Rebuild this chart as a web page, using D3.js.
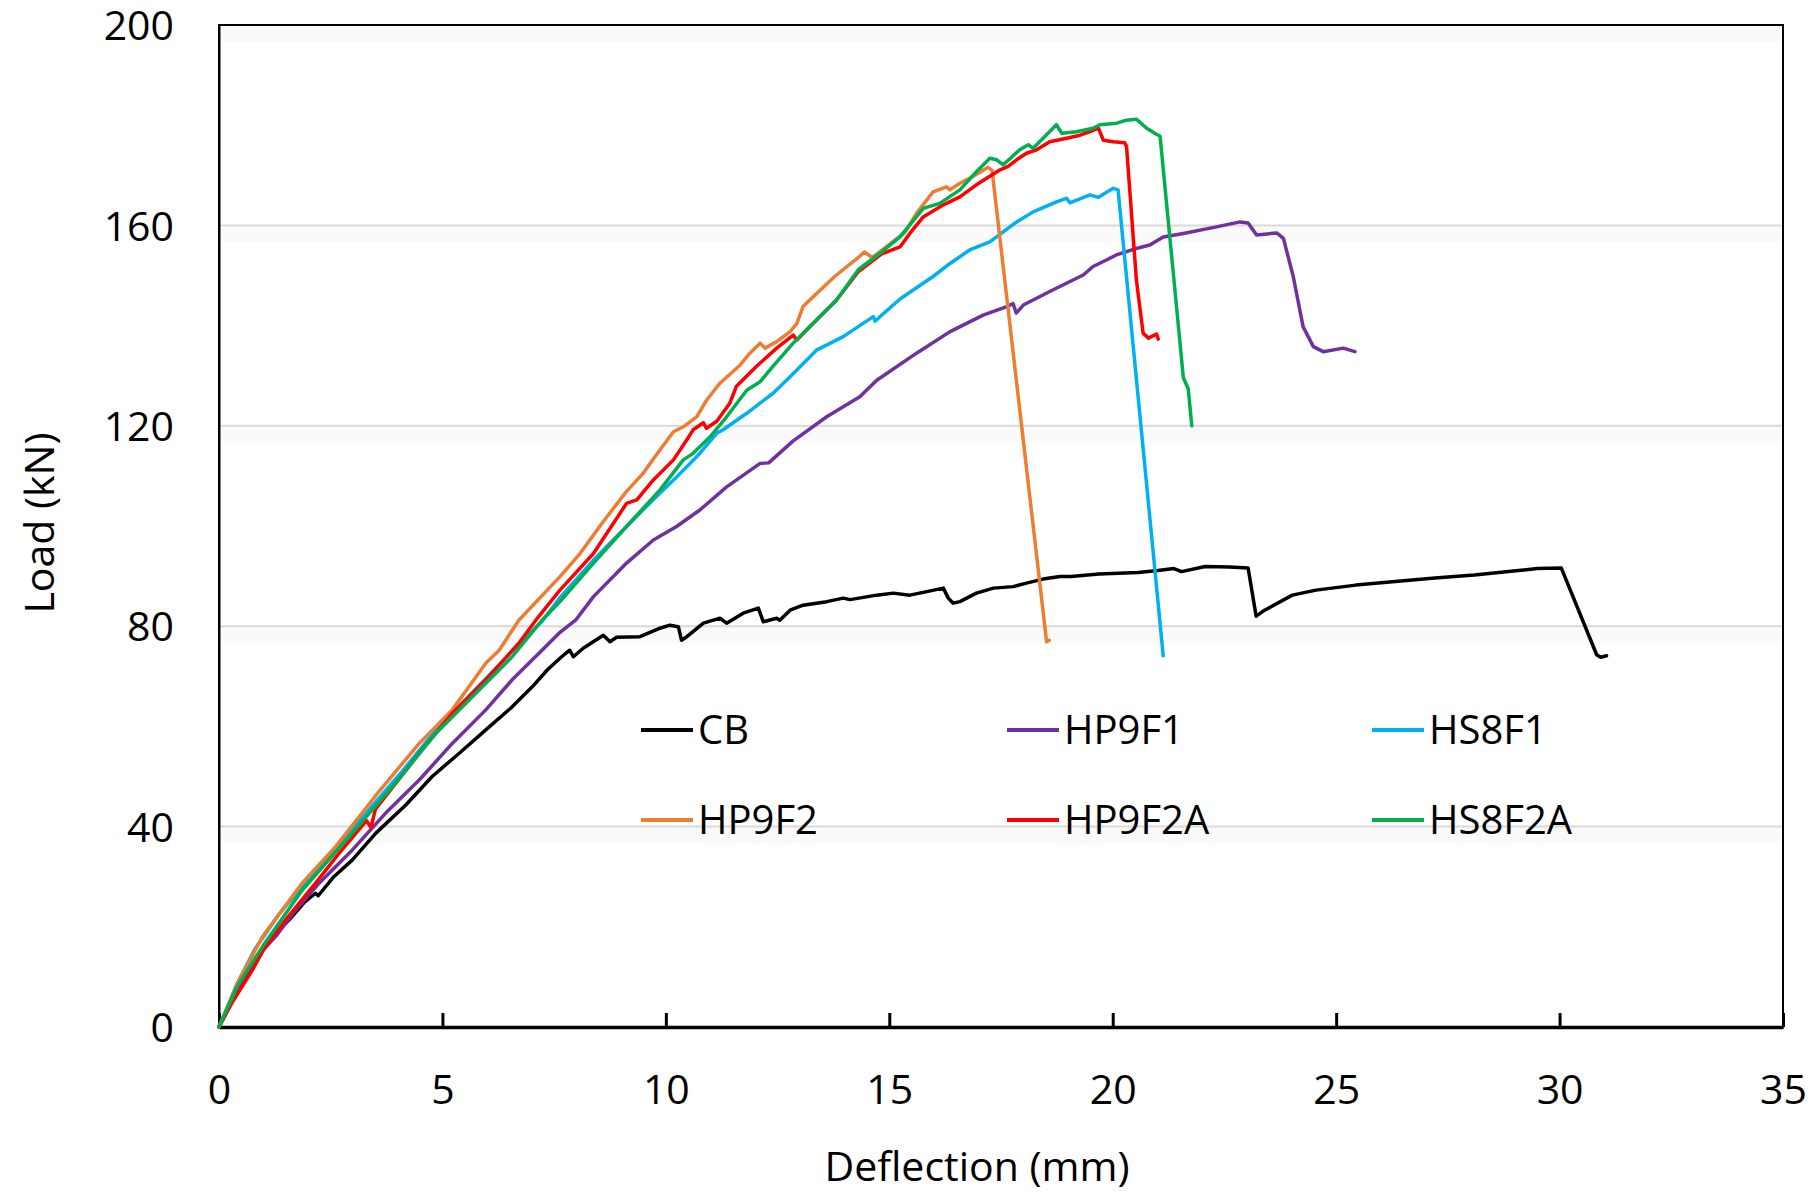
<!DOCTYPE html>
<html>
<head>
<meta charset="utf-8">
<script src="https://cdn.jsdelivr.net/npm/d3@7"></script>
<style>
  body { margin: 0; background: #fff; }
  text { font-family: "Open Sans", sans-serif; fill: #000; }
</style>
</head>
<body>
<div id="graphicContainer"></div>
<script>

// deflection (mm), load (kN) pairs
var cb = [[0,0],[0.3,5.5],[0.6,10.5],[1.0,15.5],[1.27,18.7],[1.57,21.4],[1.9,24.8],[2.16,26.7],[2.22,26.2],[2.57,30.0],[2.98,33.3],[3.51,38.7],[4.18,44.3],[4.77,50.0],[5.37,54.6],[5.97,59.3],[6.56,63.9],[7.01,67.9],[7.35,71.3],[7.63,73.6],[7.76,74.6],[7.85,75.2],[7.93,73.9],[8.15,75.6],[8.6,78.2],[8.75,76.9],[8.9,77.8],[9.42,77.9],[9.87,79.6],[10.09,80.2],[10.28,79.9],[10.35,77.2],[10.47,77.9],[10.84,80.6],[11.21,81.6],[11.36,80.6],[11.73,82.6],[12.07,83.6],[12.18,80.9],[12.48,81.6],[12.55,81.2],[12.78,83.2],[13.07,84.2],[13.6,84.9],[13.97,85.6],[14.12,85.3],[14.72,86.2],[15.09,86.6],[15.46,86.2],[15.84,86.9],[16.21,87.6],[16.32,85.6],[16.43,84.6],[16.58,84.9],[16.95,86.6],[17.33,87.6],[17.77,87.9],[18.07,88.6],[18.44,89.4],[18.82,89.9],[19.07,89.9],[19.69,90.4],[20.57,90.7],[21.01,91.1],[21.37,91.5],[21.54,90.9],[22.07,91.9],[22.61,91.8],[23.03,91.6],[23.21,82.0],[23.4,83.2],[24.02,86.2],[24.55,87.2],[25.44,88.2],[26.32,88.9],[27.21,89.6],[28.09,90.2],[28.97,91.0],[29.5,91.5],[30.04,91.6],[30.83,74.3],[30.92,73.8],[31.05,74.1]]

var hp9f1 = [[0,0],[0.3,5.5],[0.6,10.5],[1.0,15.5],[1.29,18.3],[1.72,23.4],[2.24,28.7],[2.98,35.3],[3.73,42.7],[4.48,49.3],[5.22,56.6],[5.97,63.3],[6.56,69.3],[7.16,74.6],[7.61,78.6],[7.98,81.2],[8.38,85.9],[9.12,92.6],[9.72,97.2],[10.24,99.9],[10.76,103.2],[11.36,107.8],[12.11,112.5],[12.3,112.6],[12.85,117.0],[13.6,121.8],[14.34,125.8],[14.72,129.1],[15.61,134.5],[16.36,138.8],[17.1,142.1],[17.63,143.8],[17.77,144.4],[17.84,142.5],[18.0,144.1],[18.59,146.8],[19.34,150.1],[19.56,151.8],[19.86,153.1],[20.08,154.1],[20.53,155.4],[20.83,156.1],[21.13,157.7],[21.58,158.4],[22.32,159.7],[22.85,160.7],[23.03,160.5],[23.22,158.1],[23.67,158.5],[23.82,157.4],[24.04,149.8],[24.26,139.8],[24.49,135.8],[24.71,134.8],[25.16,135.5],[25.42,134.8]]

var hs8f1 = [[0,0],[0.4,8.5],[0.8,15.5],[1.36,22.7],[1.86,28.0],[2.98,39.5],[4.03,50.3],[4.85,59.2],[5.97,69.5],[6.56,75.0],[7.23,81.0],[7.63,85.7],[8.38,93.2],[9.12,99.9],[9.79,105.9],[10.24,109.8],[10.69,113.8],[11.14,118.5],[11.28,119.2],[11.81,122.5],[12.4,126.5],[12.78,129.8],[13.37,135.1],[13.97,137.8],[14.64,141.8],[14.68,140.9],[15.24,145.3],[15.98,149.8],[16.36,152.4],[16.8,155.1],[17.25,156.7],[17.85,160.7],[18.22,162.7],[18.74,164.7],[18.97,165.4],[19.04,164.5],[19.49,166.1],[19.68,165.6],[20.01,167.4],[20.12,167.1],[21.13,74.1]]

var hp9f2 = [[0,0],[0.4,8.5],[0.97,18.0],[1.86,28.7],[2.61,36.0],[3.58,47.0],[4.48,56.6],[5.22,63.3],[5.97,72.6],[6.27,75.2],[6.71,81.2],[7.63,89.9],[8.08,94.5],[8.6,100.9],[9.12,106.9],[9.49,110.5],[9.87,115.2],[10.17,118.8],[10.39,119.8],[10.69,121.8],[10.91,125.1],[11.21,128.5],[11.66,132.1],[11.88,134.5],[12.11,136.5],[12.22,135.5],[12.48,136.8],[12.78,138.8],[12.93,140.4],[13.07,143.8],[13.22,145.1],[13.79,149.9],[14.31,153.6],[14.44,154.7],[14.62,153.6],[14.96,155.9],[15.35,158.6],[15.61,162.4],[15.98,166.7],[16.28,167.7],[16.36,167.1],[16.58,168.4],[16.88,169.8],[17.21,171.6],[17.3,171.0],[18.52,76.9],[18.58,77.2]]

var hp9f2a = [[0,0],[0.3,5],[0.75,11.4],[1.0,15.5],[1.49,21.4],[2.16,28.7],[2.69,34.7],[3.3,41.2],[3.4,39.8],[3.5,43.5],[4.48,54.6],[5.22,62.6],[5.97,69.3],[6.71,76.6],[7.09,81.2],[7.63,87.2],[8.38,94.5],[9.12,104.5],[9.35,105.2],[9.72,109.2],[10.17,113.2],[10.47,117.2],[10.61,119.2],[10.84,120.6],[10.91,119.5],[11.14,120.9],[11.43,124.5],[11.58,127.9],[12.03,131.9],[12.48,135.5],[12.85,138.1],[12.93,137.1],[13.15,139.1],[13.82,145.1],[14.31,150.8],[14.83,154.3],[15.24,155.7],[15.46,158.4],[15.76,161.7],[16.21,164.1],[16.58,165.7],[16.95,168.1],[17.25,169.8],[17.48,171.1],[17.66,171.8],[17.85,173.1],[18.07,174.4],[18.3,175.1],[18.59,176.7],[18.97,177.4],[19.27,178.0],[19.49,178.7],[19.68,179.4],[19.79,177.0],[20.01,176.7],[20.27,176.5],[20.31,175.7],[20.53,149.1],[20.68,138.5],[20.8,137.5],[20.98,138.3],[21.02,137.3]]

var hs8f2a = [[0,0],[0.4,8],[0.97,16.0],[1.86,27.3],[2.98,38.7],[4.03,49.6],[4.85,58.6],[5.97,68.6],[6.56,73.9],[7.23,81.2],[7.63,84.9],[8.38,92.6],[9.12,99.9],[9.87,107.2],[10.39,113.2],[10.61,114.5],[10.99,117.8],[11.36,121.8],[11.81,127.1],[12.11,128.8],[12.4,131.9],[12.85,136.5],[13.3,140.5],[13.82,145.1],[14.31,151.2],[14.83,154.7],[15.24,157.7],[15.76,163.4],[16.13,164.4],[16.58,167.1],[16.95,170.7],[17.25,173.4],[17.4,173.1],[17.55,172.1],[17.92,175.1],[18.11,176.1],[18.22,175.4],[18.52,178.1],[18.74,180.1],[18.86,178.4],[19.19,178.7],[19.56,179.4],[19.71,180.1],[20.09,180.4],[20.31,181.0],[20.53,181.2],[20.76,179.4],[20.98,178.2],[21.06,177.8],[21.5,137.1],[21.58,129.6],[21.69,127.4],[21.77,120.0]]

var seriesNames = ["CB", "HP9F1", "HS8F1", "HP9F2", "HP9F2A", "HS8F2A"]
var seriesColours = ["#000000", "#7030a0", "#00b0f0", "#ed7d31", "#ff0000", "#00b050"]
var seriesData = [cb, hp9f1, hs8f1, hp9f2, hp9f2a, hs8f2a]

var xTicks = [0, 5, 10, 15, 20, 25, 30, 35]
var yTicks = [0, 40, 80, 120, 160, 200]

function init() {

	var fullWidth = 1819
	var fullHeight = 1194
	var margin = {top: 25, right: 36, bottom: 167, left: 219}

	var width = fullWidth - margin.left - margin.right
	var height = fullHeight - margin.top - margin.bottom

	var svg = d3.select("#graphicContainer").append("svg")
		.attr("width", fullWidth)
		.attr("height", fullHeight)

	var features = svg.append("g").attr("transform", "translate(" + margin.left + "," + margin.top + ")")

	var x = d3.scaleLinear().domain([0, 35]).range([0, width])
	var y = d3.scaleLinear().domain([0, 200]).range([height, 0])

	// gridlines with the faint band under each one
	yTicks.filter(d => d > 0).forEach(function (d) {
		features.append("rect")
			.attr("x", 2)
			.attr("y", y(d) + 1)
			.attr("width", width - 3)
			.attr("height", 16)
			.attr("fill", "#fafafa")
		if (d < 200) {
			features.append("line")
				.attr("x1", 0).attr("x2", width)
				.attr("y1", y(d)).attr("y2", y(d))
				.attr("stroke", "#d9d9d9")
				.attr("stroke-width", 2)
		}
	})

	// plot frame
	features.append("rect")
		.attr("x", 0).attr("y", 0)
		.attr("width", width).attr("height", height)
		.attr("fill", "none")
		.attr("stroke", "#000")
		.attr("stroke-width", 2)

	var xAxis = d3.axisBottom(x)
		.tickValues(xTicks)
		.tickSizeInner(-14)
		.tickSizeOuter(0)
		.tickPadding(48)

	var gx = features.append("g")
		.attr("class", "x")
		.attr("transform", "translate(0," + height + ")")
		.call(xAxis)

	gx.select(".domain").attr("stroke-width", 3.5)
	gx.selectAll(".tick line").attr("stroke-width", 3)
	gx.selectAll("text")
		.attr("font-size", 41)
		.attr("font-family", "Open Sans")

	var yAxis = d3.axisLeft(y)
		.tickValues(yTicks)
		.tickSize(0)
		.tickPadding(45)

	var gy = features.append("g")
		.attr("class", "y")
		.call(yAxis)

	gy.select(".domain").attr("stroke-width", 2)
	gy.selectAll("text")
		.attr("font-size", 41)
		.attr("font-family", "Open Sans")
		.attr("dy", "0.36em")

	var line = d3.line()
		.x(d => x(d[0]))
		.y(d => y(d[1]))

	seriesData.forEach(function (s, i) {
		features.append("path")
			.datum(s)
			.attr("d", line)
			.attr("fill", "none")
			.attr("stroke", seriesColours[i])
			.attr("stroke-width", 3.5)
			.attr("stroke-linejoin", "round")
			.attr("stroke-linecap", "round")
	})

	// legend, 3 columns x 2 rows
	var legendX = [641, 1007, 1372]
	var legendY = [730, 820]

	seriesNames.forEach(function (name, i) {
		var lx = legendX[i % 3]
		var ly = legendY[Math.floor(i / 3)]
		svg.append("line")
			.attr("x1", lx).attr("x2", lx + 52)
			.attr("y1", ly).attr("y2", ly)
			.attr("stroke", seriesColours[i])
			.attr("stroke-width", 4)
		svg.append("text")
			.attr("x", lx + 57)
			.attr("y", ly)
			.attr("dy", "0.36em")
			.attr("font-size", 40)
			.text(name)
	})

	svg.append("text")
		.attr("x", 977)
		.attr("y", 1181)
		.attr("text-anchor", "middle")
		.attr("font-size", 41)
		.text("Deflection (mm)")

	svg.append("text")
		.attr("transform", "translate(54,523)rotate(-90)")
		.attr("text-anchor", "middle")
		.attr("font-size", 41)
		.text("Load (kN)")
}

init()

</script>
</body>
</html>
